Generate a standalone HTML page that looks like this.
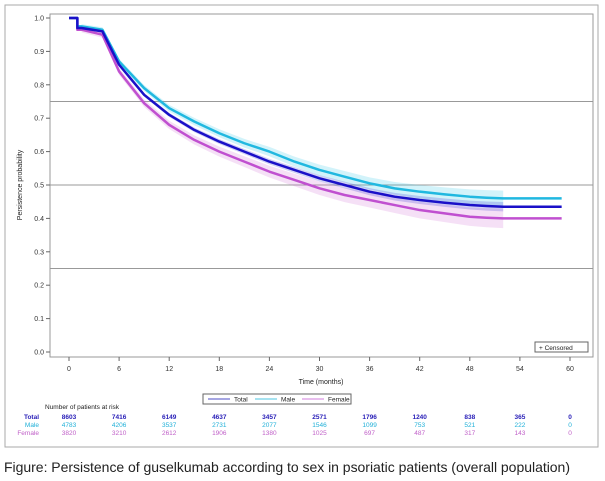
<!DOCTYPE html>
<html><head><meta charset="utf-8"><style>
body{margin:0;background:#fff;width:605px;height:481px;overflow:hidden;font-family:"Liberation Sans",sans-serif}
</style></head><body>
<svg width="605" height="481" style="position:absolute;left:0;top:0">
<rect x="5" y="5" width="593" height="442" fill="#fff" stroke="#aaa"/>
<g id="plot"></g>
<text x="4" y="472" font-size="14" fill="#222" textLength="566">Figure: Persistence of guselkumab according to sex in psoriatic patients (overall population)</text>
</svg>
<script>
const times=[0,1,1.5,4,6,9,12,15,18,21,24,27,30,33,36,39,42,45,48,50,52,59];
const totalVals=[1,1,0.97,0.96,0.86,0.77,0.71,0.665,0.63,0.60,0.57,0.545,0.52,0.50,0.48,0.465,0.455,0.447,0.44,0.437,0.435,0.435];
const maleVals=[1,1,0.975,0.965,0.87,0.79,0.73,0.69,0.655,0.625,0.60,0.57,0.545,0.525,0.505,0.49,0.48,0.472,0.465,0.462,0.46,0.46];
const femaleVals=[1,1,0.965,0.95,0.84,0.745,0.68,0.635,0.60,0.57,0.54,0.515,0.49,0.47,0.455,0.44,0.425,0.415,0.405,0.402,0.40,0.40];
const xTicks=[0,6,12,18,24,30,36,42,48,54,60];
const yTicks=[0,0.1,0.2,0.3,0.4,0.5,0.6,0.7,0.8,0.9,1.0];
const riskTotal=[8603,7416,6149,4637,3457,2571,1796,1240,838,365,0];
const riskMale=[4783,4206,3537,2731,2077,1546,1099,753,521,222,0];
const riskFemale=[3820,3210,2612,1906,1380,1025,697,487,317,143,0];
const refLines=[0.75,0.5,0.25];
const NS="http://www.w3.org/2000/svg";
const g=document.getElementById('plot');
const X=t=>69+t*(570-69)/60, Y=v=>352-v*334;
function el(tag,attrs,parent){const e=document.createElementNS(NS,tag);for(const k in attrs)e.setAttribute(k,attrs[k]);(parent||g).appendChild(e);return e;}
function txt(x,y,s,attrs){const e=el('text',Object.assign({x:x,y:y},attrs));e.textContent=s;return e;}
let f=el('rect',{x:50,y:14,width:543,height:343,fill:'none',stroke:'#999'});

refLines.forEach(v=>{const l=el('line',{x1:50,x2:593,y1:Y(v),y2:Y(v),stroke:'#999','stroke-width':1});
});
yTicks.forEach(v=>{el('line',{x1:46,x2:50,y1:Y(v),y2:Y(v),stroke:'#666'});
const t=txt(44,Y(v)+2.5,v.toFixed(1),{'font-size':7,'text-anchor':'end',fill:'#333'});
});
xTicks.forEach(v=>{el('line',{x1:X(v),x2:X(v),y1:357,y2:361,stroke:'#666'});
const t=txt(X(v),371,String(v),{'font-size':7,'text-anchor':'middle',fill:'#333'});
});
let xt=txt(321,384,'Time (months)',{'font-size':7,'text-anchor':'middle',fill:'#222'});

let yt=txt(0,0,'Persistence probability',{'font-size':7,'text-anchor':'middle',fill:'#222',transform:'translate(22,185) rotate(-90)'});

function line(vals){let d='M'+X(times[0])+','+Y(vals[0]);for(let i=1;i<times.length;i++){
if(i===2){d+='V'+Y(vals[i]);} d+='L'+X(times[i])+','+Y(vals[i]);}return d;}
function band(vals,w,name,color){let up=[],lo=[];
for(let i=2;i<times.length;i++){up.push([X(times[i]),Y(vals[i]+w*(times[i]/60+0.3))]);lo.push([X(times[i]),Y(vals[i]-w*(times[i]/60+0.3))]);}
const n=up.length-1;let d='M'+up.slice(0,n).map(p=>p.join(',')).join('L')+'L'+lo.slice(0,n).reverse().map(p=>p.join(',')).join('L')+'Z';
const b=el('path',{d:d,fill:color,'fill-opacity':0.22,stroke:'none'});
}
band(femaleVals,0.025,'female-ci-band','#d070d8');
band(maleVals,0.02,'male-ci-band','#30c8e8');
band(totalVals,0.012,'total-ci-band','#3030d0');
const series=[[femaleVals,'#c050d0','female-curve'],[maleVals,'#20b8e0','male-curve'],[totalVals,'#1a10c8','total-curve']];
series.forEach(s=>{const p=el('path',{d:line(s[0]),fill:'none',stroke:s[1],'stroke-width':2.5,'stroke-linejoin':'round'});
});
let cb=el('rect',{x:535,y:342,width:53,height:10,fill:'#fff',stroke:'#666'});

txt(539,350,'+   Censored',{'font-size':6.5,fill:'#222'});
let lg=el('rect',{x:203,y:394,width:148,height:10,fill:'#fff',stroke:'#666'});

[['Total','#8888d8',208],['Male','#88d8ec',255],['Female','#e0a8e8',302]].forEach(e=>{
el('line',{x1:e[2],x2:e[2]+22,y1:399,y2:399,stroke:e[1],'stroke-width':1.5});
const t=txt(e[2]+26,401.5,e[0],{'font-size':6.5,fill:'#222'});
});
let rh=txt(45,409,'Number of patients at risk',{'font-size':6.5,fill:'#222'});

[[riskTotal,'Total','#2a20b8',419,'bold'],[riskMale,'Male','#20b0d8',427,'normal'],[riskFemale,'Female','#c060c8',435,'normal']].forEach(r=>{
const l=txt(39,r[3],r[1],{'font-size':6.5,'text-anchor':'end',fill:r[2],'font-weight':r[4]});

r[0].forEach((v,i)=>{const t=txt(X(xTicks[i]),r[3],String(v),{'font-size':6.5,'text-anchor':'middle',fill:r[2],'font-weight':r[4]});
});});
</script>
</body></html>
